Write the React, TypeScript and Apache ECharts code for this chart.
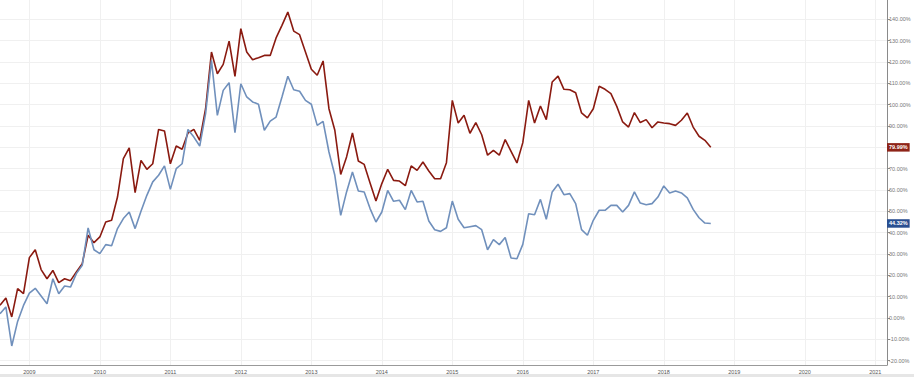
import React, { useEffect, useRef } from "react";
import * as echarts from "echarts";

// Monthly categories: Aug 2008 .. Mar 2021 (axis span); data runs Aug 2008 .. Sep 2018
const firstMonth = { year: 2008, month: 8 };
const lastMonth = { year: 2021, month: 3 };
function buildMonths(): string[] {
  const out: string[] = [];
  let y = firstMonth.year;
  let m = firstMonth.month;
  while (y < lastMonth.year || (y === lastMonth.year && m <= lastMonth.month)) {
    out.push(`${y}-${m < 10 ? "0" + m : m}`);
    m++;
    if (m > 12) { m = 1; y++; }
  }
  return out;
}
const months = buildMonths();

const redValues = [
  6.0, 9.4, 0.5, 13.8, 11.4, 28.3, 32.0, 22.7, 18.4, 22.3, 16.6, 18.4, 17.5, 21.6, 25.5, 38.8,
  35.3, 38.0, 45.0, 45.8, 56.7, 74.7, 79.7, 58.8, 73.9, 69.7, 72.3, 88.4, 87.7, 72.3, 80.6, 79.1,
  86.7, 88.4, 83.3, 98.1, 124.7, 114.5, 118.9, 129.8, 113.3, 135.6, 124.7, 121.1, 122.0, 123.1,
  123.1, 131.3, 137.2, 143.4, 134.5, 132.8, 124.7, 116.6, 113.8, 120.5, 98.1, 88.0, 67.3, 75.5,
  86.7, 73.6, 72.0, 63.3, 54.8, 63.0, 69.7, 64.5, 64.2, 62.0, 71.3, 69.2, 73.1, 68.9, 65.3, 65.3,
  72.8, 102.0, 91.4, 95.0, 86.6, 91.6, 85.9, 76.3, 78.6, 76.3, 83.6, 78.1, 72.7, 82.2, 102.0, 91.4,
  99.4, 93.0, 110.6, 113.4, 107.2, 107.0, 105.6, 96.1, 93.8, 98.1, 108.6, 107.2, 105.2, 99.2, 91.9,
  89.5, 96.3, 91.6, 93.0, 89.2, 91.9, 91.4, 91.1, 90.3, 92.7, 96.1, 89.5, 85.2, 83.3, 79.99,
];

const blueValues = [
  2.0, 5.2, -13.1, -1.6, 5.9, 11.7, 13.9, 10.3, 6.7, 18.4, 11.4, 15.0, 14.5, 20.8, 24.7, 42.2,
  32.0, 30.2, 34.4, 33.9, 41.9, 46.6, 49.7, 41.9, 50.0, 57.5, 63.8, 66.9, 71.3, 60.3, 70.0, 72.3,
  88.4, 84.8, 80.6, 95.8, 120.8, 95.0, 106.7, 110.3, 86.9, 109.8, 103.6, 101.3, 100.2, 88.0, 92.3,
  94.2, 103.6, 113.3, 107.0, 106.3, 102.0, 100.2, 90.3, 92.2, 77.8, 66.9, 48.1, 59.1, 68.4, 59.5,
  59.1, 51.3, 45.0, 49.7, 59.8, 54.7, 55.2, 50.8, 59.8, 54.4, 54.7, 45.5, 41.4, 40.6, 42.3, 54.8,
  46.3, 42.3, 42.8, 43.3, 41.4, 32.0, 36.7, 34.4, 37.7, 28.1, 27.8, 34.5, 48.9, 48.4, 55.6, 46.3,
  59.1, 62.7, 57.8, 58.3, 53.6, 41.4, 38.8, 45.8, 50.5, 50.5, 52.8, 52.8, 49.7, 52.8, 59.1, 53.9,
  53.1, 53.6, 56.7, 61.9, 58.6, 59.5, 58.6, 56.3, 50.9, 47.0, 44.5, 44.32,
];

const yTickMin = -20;
const yTickMax = 140;
const yTickStep = 10;

const RED = "#8a1a10";
const BLUE = "#7090bc";
const RED_BOX = "#8e2418";
const BLUE_BOX = "#2a4f91";
const FONT = "Liberation Sans, Arial, sans-serif";

export default function App() {
  const ref = useRef<HTMLDivElement>(null);
  useEffect(() => {
    if (!ref.current) return;
    const chart = echarts.init(ref.current, undefined, { renderer: "svg" });
    const isJan = (_i: number, v: string) => v.endsWith("-01");
    const lastCat = months[months.length - 1];
    const endLabel = (val: number, bg: string) => ({
      symbol: "rect",
      symbolSize: 0,
      silent: true,
      data: [
        {
          coord: [lastCat, val],
          label: {
            show: true,
            position: "right",
            distance: 0,
            formatter: val.toFixed(2) + "%",
            color: "#fff",
            fontSize: 5.5,
            fontWeight: "bold",
            fontFamily: FONT,
            backgroundColor: bg,
            padding: [1.5, 2, 1, 2],
          },
        },
      ],
    });
    chart.setOption({
      animation: false,
      textStyle: { fontFamily: FONT },
      grid: [
        { left: -2.5, width: 889.5, top: 0, height: 365, containLabel: false },
        { left: -2.5, width: 889.5, top: 19.33, height: 341.34, containLabel: false },
      ],
      xAxis: [
        {
          type: "category",
          gridIndex: 0,
          data: months,
          boundaryGap: false,
          position: "bottom",
          axisLine: { show: true, onZero: false, lineStyle: { color: "#9a9a9a", width: 1 } },
          axisTick: { show: false },
          axisLabel: {
            interval: isJan,
            formatter: (v: string) => v.slice(0, 4),
            fontSize: 5.5,
            color: "#555",
            margin: 4,
          },
          splitLine: { show: true, interval: isJan, lineStyle: { color: "#f0f0f0", width: 1 } },
        },
        {
          type: "category",
          gridIndex: 1,
          data: months,
          boundaryGap: false,
          show: false,
          axisLine: { show: false, onZero: false },
          axisTick: { show: false },
          axisLabel: { show: false },
          splitLine: { show: false },
        },
      ],
      yAxis: [
        {
          type: "value",
          gridIndex: 0,
          position: "right",
          min: -22.03,
          max: 149.06,
          axisLine: { show: true, onZero: false, lineStyle: { color: "#8a8a8a", width: 1 } },
          axisTick: { show: false },
          axisLabel: { show: false },
          splitLine: { show: false },
        },
        {
          type: "value",
          gridIndex: 1,
          position: "right",
          min: yTickMin,
          max: yTickMax,
          interval: yTickStep,
          axisLine: { show: false, onZero: false },
          axisTick: { show: true, inside: false, length: 3, lineStyle: { color: "#8a8a8a" } },
          axisLabel: {
            formatter: (v: number) => v.toFixed(2) + "%",
            fontSize: 5.5,
            color: "#777",
            margin: 2,
          },
          splitLine: { show: true, lineStyle: { color: "#f0f0f0", width: 1 } },
        },
      ],
      series: [
        {
          type: "line",
          xAxisIndex: 0,
          yAxisIndex: 0,
          data: redValues,
          showSymbol: false,
          symbol: "none",
          clip: false,
          lineStyle: { color: RED, width: 1.6 },
          itemStyle: { color: RED },
          markPoint: endLabel(redValues[redValues.length - 1], RED_BOX),
          z: 3,
        },
        {
          type: "line",
          xAxisIndex: 0,
          yAxisIndex: 0,
          data: blueValues,
          showSymbol: false,
          symbol: "none",
          clip: false,
          lineStyle: { color: BLUE, width: 1.6 },
          itemStyle: { color: BLUE },
          markPoint: endLabel(blueValues[blueValues.length - 1], BLUE_BOX),
          z: 4,
        },
      ],
      graphic: [
        {
          type: "rect",
          shape: { x: 0, y: 374, width: 914, height: 3 },
          style: { fill: "#e6e6e6" },
          silent: true,
        },
      ],
    });
    return () => chart.dispose();
  }, []);
  return (
    <div
      ref={ref}
      style={{ position: "fixed", left: 0, top: 0, width: 914, height: 377, background: "#fff" }}
    />
  );
}
